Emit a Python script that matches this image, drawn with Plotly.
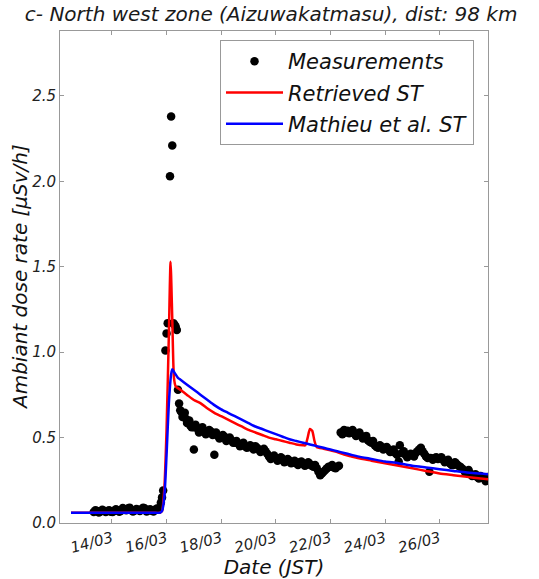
import plotly.graph_objects as go

# ---------------- data ----------------
# time tokens are "DD HH" or "DD HH:MM" in March 2011 (JST)
meas_time = [
    "13 08", "13 11", "13 14", "13 17", "13 20", "13 23",
    "14 02", "14 05", "14 08", "14 11", "14 14", "14 17", "14 20", "14 23",
    "15 02", "15 05", "15 08", "15 11", "15 14", "15 17",
    "15 18", "15 19", "15 20", "15 21",
    "15 23", "16 00", "16 01", "16 03", "16 04", "16 05", "16 06", "16 07", "16 08", "16 09", "16 10",
    "16 12", "16 13", "16 15", "16 17", "16 19", "16 21",
    "17 00", "17 00", "17 03", "17 06", "17 09", "17 12", "17 15", "17 18", "17 20", "17 21",
    "18 00", "18 03", "18 06", "18 09", "18 12", "18 15", "18 18", "18 21",
    "19 00", "19 03", "19 06", "19 09", "19 12", "19 15", "19 18", "19 21",
    "20 00", "20 03", "20 06", "20 09", "20 12", "20 15", "20 18", "20 21",
    "21 00", "21 03", "21 06", "21 09", "21 12", "21 15", "21 18", "21 21",
    "22 00", "22 03", "22 06",
    "22 09", "22 12", "22 15", "22 18", "22 21",
    "23 00", "23 03", "23 06", "23 09", "23 12", "23 15", "23 18", "23 21",
    "24 00", "24 03", "24 06", "24 09", "24 12", "24 13", "24 15", "24 18", "24 21",
    "25 00", "25 03", "25 06", "25 09", "25 12", "25 15", "25 16", "25 18", "25 21",
    "26 00", "26 03", "26 06", "26 09", "26 12", "26 15", "26 18", "26 21",
    "27 00", "27 03", "27 06", "27 09", "27 12", "27 15", "27 18",
]
meas_dose = [
    0.065, 0.070, 0.068, 0.072, 0.070, 0.066,
    0.070, 0.074, 0.072, 0.080, 0.085, 0.075, 0.073, 0.078,
    0.080, 0.085, 0.075, 0.072, 0.078, 0.080,
    0.090, 0.120, 0.150, 0.190,
    1.01, 1.11, 1.17, 2.03, 2.38, 2.21, 1.17, 1.16, 1.15, 1.13, 0.78,
    0.66, 0.65, 0.63, 0.61, 0.59, 0.57,
    0.56, 0.43, 0.555, 0.545, 0.54, 0.53, 0.535, 0.40, 0.52, 0.51,
    0.50, 0.505, 0.49, 0.485, 0.47, 0.465, 0.46, 0.45,
    0.445, 0.44, 0.45, 0.43, 0.425, 0.42, 0.39, 0.385,
    0.38, 0.37, 0.375, 0.36, 0.365, 0.355, 0.35, 0.355,
    0.35, 0.34, 0.345, 0.33, 0.32, 0.28, 0.30, 0.32,
    0.33, 0.325, 0.33,
    0.53, 0.545, 0.54, 0.53, 0.525,
    0.52, 0.51, 0.50, 0.485, 0.47, 0.455, 0.44, 0.445,
    0.44, 0.43, 0.42, 0.41, 0.36, 0.455, 0.41, 0.40, 0.395,
    0.40, 0.41, 0.43, 0.42, 0.39, 0.30, 0.38, 0.37, 0.385,
    0.38, 0.37, 0.36, 0.35, 0.34, 0.345, 0.33, 0.31,
    0.30, 0.29, 0.28, 0.27, 0.275, 0.26, 0.25,
]
# readings in between the ones above (the band is dense)
meas2_time = [
    "13 09:30", "13 12:30", "13 15:30", "13 18:30", "13 21:30",
    "14 00:30", "14 03:30", "14 06:30", "14 09:30", "14 12:30", "14 15:30", "14 18:30", "14 21:30",
    "15 00:30", "15 03:30", "15 06:30", "15 09:30", "15 12:30", "15 15:30",
    "16 11", "16 14", "16 16", "16 18", "16 20", "16 22",
    "17 01:30", "17 04:30", "17 07:30", "17 10:30", "17 13:30", "17 16:30", "17 19:30", "17 22:30",
    "18 01:30", "18 04:30", "18 07:30", "18 10:30", "18 13:30", "18 16:30", "18 19:30", "18 22:30",
    "19 01:30", "19 04:30", "19 07:30", "19 10:30", "19 13:30", "19 16:30", "19 19:30", "19 22:30",
    "20 01:30", "20 04:30", "20 07:30", "20 10:30", "20 13:30", "20 16:30", "20 19:30", "20 22:30",
    "21 01:30", "21 04:30", "21 07:30", "21 10:30", "21 13:30", "21 16:30", "21 19:30", "21 22:30",
    "22 01:30", "22 04:30", "22 07:30",
    "22 10:30", "22 13:30", "22 16:30", "22 19:30", "22 22:30",
    "23 01:30", "23 04:30", "23 07:30", "23 10:30", "23 13:30", "23 16:30", "23 19:30", "23 22:30",
    "24 01:30", "24 04:30", "24 07:30", "24 10:30", "24 16:30", "24 19:30", "24 22:30",
    "25 01:30", "25 04:30", "25 07:30", "25 10:30", "25 13:30", "25 19:30", "25 22:30",
    "26 01:30", "26 04:30", "26 07:30", "26 10:30", "26 13:30", "26 16:30", "26 19:30", "26 22:30",
    "27 01:30", "27 04:30", "27 07:30", "27 10:30", "27 13:30", "27 16:30", "27 18:30",
]
meas2_dose = [
    0.075, 0.062, 0.078, 0.064, 0.075,
    0.064, 0.080, 0.066, 0.088, 0.074, 0.090, 0.068, 0.082,
    0.070, 0.090, 0.068, 0.080, 0.068, 0.085,
    0.70, 0.62, 0.645, 0.585, 0.60, 0.56,
    0.575, 0.53, 0.56, 0.52, 0.545, 0.515, 0.53, 0.495,
    0.515, 0.48, 0.50, 0.47, 0.48, 0.45, 0.47, 0.44,
    0.455, 0.43, 0.44, 0.415, 0.435, 0.405, 0.375, 0.395,
    0.365, 0.385, 0.355, 0.375, 0.35, 0.365, 0.34, 0.36,
    0.335, 0.355, 0.335, 0.34, 0.30, 0.29, 0.31, 0.33,
    0.34, 0.32, 0.335,
    0.52, 0.53, 0.525, 0.545, 0.51,
    0.53, 0.495, 0.51, 0.475, 0.48, 0.445, 0.455, 0.43,
    0.445, 0.415, 0.43, 0.40, 0.42, 0.385, 0.405,
    0.39, 0.42, 0.44, 0.405, 0.38, 0.38, 0.375,
    0.385, 0.355, 0.37, 0.34, 0.355, 0.335, 0.32, 0.295,
    0.31, 0.275, 0.285, 0.26, 0.265, 0.245, 0.27,
]

retr_time = [
    "12 12", "13 12", "14 12", "15 12", "15 18", "15 20", "15 22",
    "16 00", "16 02", "16 03:30", "16 05", "16 06:30", "16 08", "16 12", "16 18",
    "17 00", "17 06", "17 12", "17 18", "18 00", "18 06", "18 12", "18 18",
    "19 00", "19 06", "19 12", "19 18", "20 00", "20 06", "20 12", "20 18",
    "21 00", "21 02", "21 04", "21 06", "21 08", "21 10", "21 12", "21 18",
    "22 00", "22 06", "22 12", "22 18", "23 00", "23 12", "24 00", "24 12",
    "25 00", "25 12", "26 00", "26 12", "27 00", "27 12", "27 20",
]
retr_dose = [
    0.06, 0.06, 0.06, 0.06, 0.06, 0.07, 0.20,
    0.55, 1.10, 1.53, 1.20, 0.85, 0.80, 0.78, 0.75,
    0.72, 0.70, 0.67, 0.645, 0.625, 0.605, 0.585, 0.565,
    0.545, 0.53, 0.515, 0.50, 0.49, 0.48, 0.47, 0.46,
    0.455, 0.455, 0.50, 0.55, 0.54, 0.48, 0.445, 0.435,
    0.425, 0.415, 0.40, 0.39, 0.38, 0.365, 0.35, 0.335,
    0.32, 0.305, 0.29, 0.28, 0.27, 0.26, 0.255,
]

math_time = [
    "12 12", "13 12", "14 12", "15 12", "15 18", "15 20", "15 22",
    "16 00", "16 02", "16 04", "16 05", "16 07", "16 10", "16 12", "16 18",
    "17 00", "17 06", "17 12", "17 18", "18 00", "18 06", "18 12", "18 18",
    "19 00", "19 06", "19 12", "19 18", "20 00", "20 06", "20 12", "20 18",
    "21 00", "21 06", "21 12", "21 18", "22 00", "22 06", "22 12", "22 18",
    "23 00", "23 12", "24 00", "24 12", "25 00", "25 12", "26 00", "26 12",
    "27 00", "27 12", "27 20",
]
math_dose = [
    0.06, 0.06, 0.06, 0.06, 0.06, 0.07, 0.15,
    0.40, 0.70, 0.87, 0.90, 0.88, 0.85, 0.84, 0.81,
    0.78, 0.75, 0.72, 0.69, 0.665, 0.645, 0.625, 0.605,
    0.585, 0.565, 0.55, 0.535, 0.52, 0.505, 0.49, 0.48,
    0.47, 0.46, 0.45, 0.44, 0.43, 0.42, 0.41, 0.40,
    0.39, 0.375, 0.36, 0.35, 0.335, 0.325, 0.315, 0.305,
    0.295, 0.29, 0.285,
]

x_tick_dates = ["14", "16", "18", "20", "22", "24", "26"]
x_tick_labels = ["14/03", "16/03", "18/03", "20/03", "22/03", "24/03", "26/03"]
y_tick_vals = [0.0, 0.5, 1.0, 1.5, 2.0, 2.5]
y_tick_labels = ["0.0", "0.5", "1.0", "1.5", "2.0", "2.5"]


def ts(tok):
    d, hm = tok.split()
    if ":" not in hm:
        hm = hm + ":00"
    return f"2011-03-{d} {hm}"


FONT = "DejaVu Sans"
AX = "#999999"

fig = go.Figure()
fig.add_trace(go.Scatter(
    x=[ts(t) for t in meas_time + meas2_time], y=meas_dose + meas2_dose,
    mode="markers", name="Measurements", legendgroup="a",
    marker=dict(color="black", size=8.5),
))
fig.add_trace(go.Scatter(
    x=[ts(t) for t in retr_time], y=retr_dose, mode="lines",
    name="Retrieved ST", legendgroup="b",
    line=dict(color="#ff0000", width=2.5, shape="spline", smoothing=0.6),
))
fig.add_trace(go.Scatter(
    x=[ts(t) for t in math_time], y=math_dose, mode="lines",
    name="Mathieu et al. ST", legendgroup="c",
    line=dict(color="#0000ff", width=2.5, shape="spline", smoothing=0.6),
))

fig.update_layout(
    width=539, height=579,
    margin=dict(l=60, r=51, t=31, b=56),
    paper_bgcolor="white", plot_bgcolor="white",
    font=dict(family=FONT, style="italic", color="#222222"),
    title=dict(
        text="c- North west zone (Aizuwakatmasu), dist: 98 km",
        x=0.503, xanchor="center", xref="container",
        y=1 - 14 / 579, yref="container", yanchor="middle",
        font=dict(size=20, family=FONT, style="italic", color="#1a1a1a"),
    ),
    legend=dict(
        x=(220 - 60) / 428, y=(523 - 40) / 492, xanchor="left", yanchor="top",
        bordercolor=AX, borderwidth=1, bgcolor="white",
        font=dict(size=21, family=FONT, style="italic", color="#111111"),
        tracegroupgap=1, itemwidth=57, traceorder="grouped",
    ),
    annotations=[dict(
        text="Ambiant dose rate [µSv/h]", textangle=-90,
        xref="paper", yref="paper", x=(20 - 60) / 428, y=0.5,
        xanchor="center", yanchor="middle", showarrow=False,
        font=dict(size=20, family=FONT, style="italic", color="#111111"),
    )],
)
fig.update_xaxes(
    type="date",
    range=["2011-03-12 02:20", "2011-03-27 18:30"],
    tickvals=[ts(d + " 00") for d in x_tick_dates], ticktext=x_tick_labels,
    tickangle=-15, ticks="inside", ticklen=4, tickcolor=AX,
    showline=True, linecolor=AX, linewidth=1, mirror="allticks",
    showgrid=False, zeroline=False, automargin=False,
    tickfont=dict(size=15, family=FONT, style="italic", color="#222222"),
    title=dict(text="Date (JST)", standoff=4,
               font=dict(size=20, family=FONT, style="italic", color="#111111")),
)
fig.update_yaxes(
    range=[0, 2.88],
    tickvals=y_tick_vals, ticktext=y_tick_labels,
    ticks="inside", ticklen=4, tickcolor=AX,
    showline=True, linecolor=AX, linewidth=1, mirror="allticks",
    showgrid=False, zeroline=False, automargin=False,
    tickfont=dict(size=15, family=FONT, style="italic", color="#222222"),
)

fig.write_html("out.html")
